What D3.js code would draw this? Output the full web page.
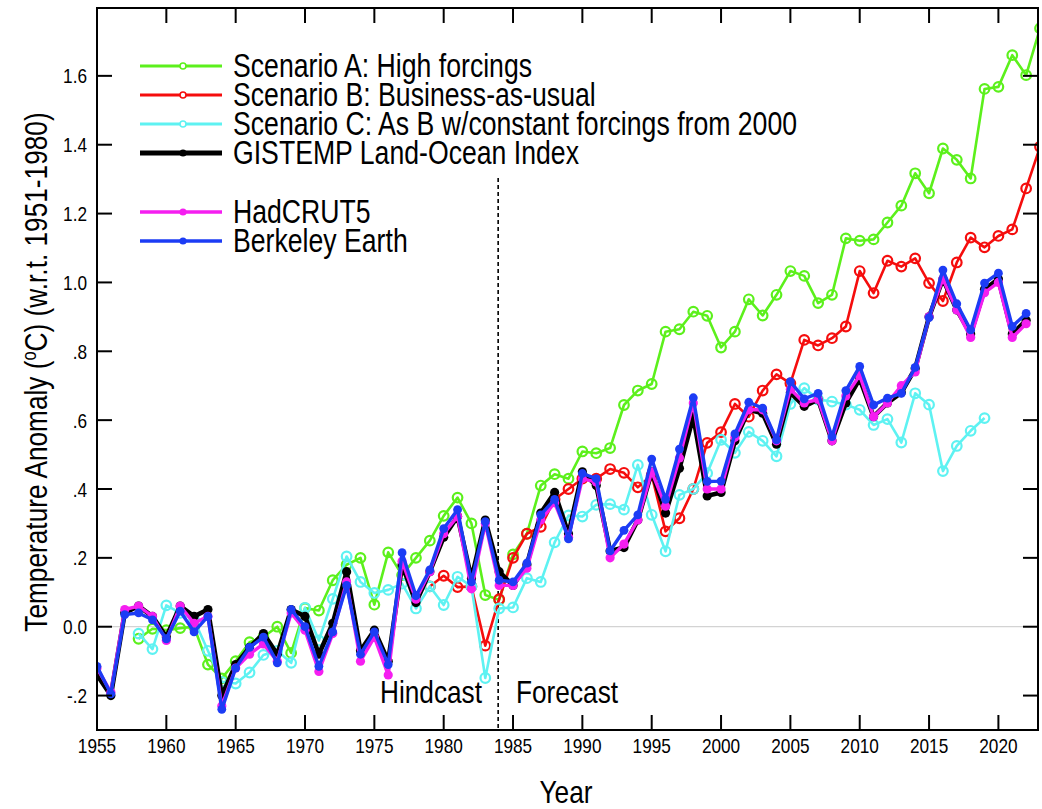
<!DOCTYPE html>
<html><head><meta charset="utf-8">
<script src="https://cdnjs.cloudflare.com/ajax/libs/d3/7.8.5/d3.min.js"></script>
<style>body{margin:0;background:#fff}svg{display:block}text{font-family:"Liberation Sans",Arial,Helvetica,sans-serif;fill:#000}</style>
</head><body><svg id="c" width="1042" height="809"></svg>
<script>
// ---------------- data ----------------
const obsYears = d3.range(1955, 2023); // 1955..2022
const gistemp = [-0.14,-0.20,0.04,0.06,0.03,-0.03,0.06,0.03,0.05,-0.20,-0.11,-0.06,-0.02,-0.08,0.05,0.03,-0.08,0.01,0.16,-0.07,-0.01,-0.10,0.18,0.07,0.16,0.26,0.32,0.14,0.31,0.16,0.12,0.18,0.33,0.39,0.27,0.45,0.41,0.22,0.23,0.31,0.45,0.33,0.46,0.61,0.38,0.39,0.54,0.63,0.62,0.53,0.68,0.64,0.66,0.54,0.65,0.72,0.61,0.65,0.68,0.75,0.90,1.01,0.92,0.85,0.98,1.01,0.85,0.89];
const hadcrut5 = [-0.12,-0.19,0.05,0.06,0.03,-0.04,0.06,0.01,0.03,-0.23,-0.12,-0.08,-0.05,-0.10,0.04,-0.01,-0.13,-0.02,0.13,-0.10,-0.03,-0.14,0.19,0.08,0.16,0.27,0.32,0.11,0.30,0.12,0.12,0.17,0.31,0.36,0.26,0.43,0.42,0.20,0.24,0.31,0.45,0.35,0.49,0.65,0.40,0.40,0.55,0.63,0.63,0.54,0.69,0.65,0.66,0.54,0.67,0.73,0.61,0.65,0.70,0.74,0.90,1.01,0.92,0.84,0.97,1.00,0.84,0.88];
const berkeley = [-0.115,-0.195,0.035,0.04,0.02,-0.035,0.045,-0.015,0.03,-0.24,-0.12,-0.06,-0.03,-0.105,0.05,0.0,-0.115,-0.015,0.12,-0.08,-0.015,-0.11,0.215,0.09,0.165,0.285,0.34,0.13,0.305,0.135,0.13,0.185,0.325,0.37,0.255,0.445,0.43,0.22,0.28,0.325,0.487,0.37,0.516,0.665,0.422,0.423,0.56,0.652,0.635,0.543,0.712,0.662,0.678,0.552,0.686,0.756,0.644,0.664,0.678,0.753,0.898,1.036,0.938,0.862,0.998,1.027,0.872,0.91];

const scenAYears = d3.range(1958, 2024); // 1958..2023
const scenA = [-0.035,-0.006,-0.01,-0.004,0.0,-0.11,-0.15,-0.10,-0.045,-0.03,0.0,-0.076,0.054,0.047,0.135,0.18,0.20,0.064,0.216,0.15,0.20,0.25,0.322,0.375,0.30,0.092,0.078,0.21,0.27,0.41,0.443,0.43,0.509,0.504,0.519,0.644,0.686,0.705,0.857,0.864,0.915,0.903,0.811,0.857,0.951,0.904,0.964,1.033,1.019,0.94,0.964,1.128,1.121,1.125,1.174,1.223,1.317,1.259,1.389,1.356,1.302,1.562,1.568,1.66,1.602,1.738];

const scenBYears = d3.range(1979, 2024); // 1979..2023 (identical to C before)
const scenB = [0.117,0.148,0.115,0.117,-0.055,0.08,0.20,0.27,0.29,0.37,0.40,0.43,0.43,0.458,0.447,0.405,0.44,0.277,0.315,0.40,0.534,0.565,0.647,0.61,0.686,0.733,0.707,0.833,0.817,0.838,0.872,1.033,0.969,1.063,1.046,1.07,0.998,0.946,1.058,1.13,1.102,1.135,1.154,1.273,1.394];

const scenCYears = d3.range(1958, 2020); // 1958..2019
const scenC = [-0.02,-0.065,0.062,0.04,0.02,-0.07,-0.16,-0.165,-0.133,-0.082,-0.07,-0.105,0.055,-0.04,0.081,0.204,0.13,0.098,0.107,0.125,0.053,0.117,0.063,0.145,0.117,-0.149,0.053,0.056,0.141,0.13,0.245,0.323,0.32,0.354,0.356,0.34,0.47,0.325,0.219,0.383,0.40,0.446,0.543,0.505,0.566,0.54,0.495,0.647,0.693,0.66,0.654,0.645,0.63,0.586,0.603,0.535,0.678,0.645,0.452,0.525,0.569,0.606];

const xTickYears = d3.range(1955, 2021, 5);
const yTickValues = [-0.2,0,0.2,0.4,0.6,0.8,1.0,1.2,1.4,1.6];
const yTickLabels = ["-.2","0.0",".2",".4",".6",".8","1.0","1.2","1.4","1.6"];
const legendLabels = ["Scenario A: High forcings","Scenario B: Business-as-usual","Scenario C: As B w/constant forcings from 2000","GISTEMP Land-Ocean Index","HadCRUT5","Berkeley Earth"];

// ---------------- layout ----------------
const L = 97, R = 1038, T = 8, B = 730;
const SX = 0.82; // narrow text
const svg = d3.select("#c");
const x = d3.scaleLinear().domain([1955, 2023]).range([L, 1040]);
const y = d3.scaleLinear().domain([-0.3, 1.8]).range([B, T - 1]);

function txt(g, px, py, s, size, anchor, rot) {
  const t = g.append("text")
    .attr("transform", `translate(${px},${py})` + (rot ? ` rotate(${rot})` : "") + ` scale(${SX},1)`)
    .attr("font-size", size).attr("text-anchor", anchor || "start");
  if (s !== null) t.text(s);
  return t;
}

svg.append("defs").append("clipPath").attr("id", "clip")
  .append("rect").attr("x", L).attr("y", T).attr("width", R - L).attr("height", B - T);

// zero line
svg.append("line").attr("x1", L).attr("x2", R).attr("y1", y(0)).attr("y2", y(0))
  .attr("stroke", "#c8c8c8").attr("stroke-width", 1);

// dashed divider
svg.append("line").attr("x1", x(1984) - 1).attr("x2", x(1984) - 1).attr("y1", 178).attr("y2", B)
  .attr("stroke", "#000").attr("stroke-width", 1.6).attr("stroke-dasharray", "4,3");

// series
const series = [
  {years: scenAYears, vals: scenA, color: "#5cf01c", w: 2.6, r: 4.8, open: true},
  {years: scenBYears, vals: scenB, color: "#f50d0d", w: 2.6, r: 4.8, open: true},
  {years: scenCYears, vals: scenC, color: "#5ef2f2", w: 2.6, r: 4.8, open: true},
  {years: obsYears, vals: gistemp, color: "#000000", w: 4.6, r: 4.6, open: false},
  {years: obsYears, vals: hadcrut5, color: "#f51ef0", w: 3.4, r: 4.6, open: false},
  {years: obsYears, vals: berkeley, color: "#1c3cf5", w: 3.4, r: 4.4, open: false}
];
const plot = svg.append("g").attr("clip-path", "url(#clip)");
const line = d3.line().x(d => x(d[0])).y(d => y(d[1]));
series.forEach(s => {
  const pts = s.years.map((yr, i) => [yr, s.vals[i]]);
  const g = plot.append("g");
  g.append("path").datum(pts).attr("d", line).attr("fill", "none")
    .attr("stroke", s.color).attr("stroke-width", s.w).attr("stroke-linejoin", "round");
  g.selectAll("circle").data(pts).join("circle")
    .attr("cx", d => x(d[0])).attr("cy", d => y(d[1])).attr("r", s.r)
    .attr("fill", s.open ? "none" : s.color)
    .attr("stroke", s.color).attr("stroke-width", s.open ? 2.2 : 0);
});

// frame
svg.append("rect").attr("x", L).attr("y", T).attr("width", R - L).attr("height", B - T)
  .attr("fill", "none").attr("stroke", "#000").attr("stroke-width", 2);

// ticks (inside) and labels
const tk = 15;
const axG = svg.append("g");
xTickYears.forEach(yr => {
  const px = x(yr);
  if (yr !== 1955) {
    axG.append("line").attr("x1", px).attr("x2", px).attr("y1", B).attr("y2", B - tk).attr("stroke", "#000").attr("stroke-width", 2);
    axG.append("line").attr("x1", px).attr("x2", px).attr("y1", T).attr("y2", T + tk).attr("stroke", "#000").attr("stroke-width", 2);
  }
  txt(axG, px, 753, String(yr), 21, "middle");
});
yTickValues.forEach((v, i) => {
  const py = y(v);
  axG.append("line").attr("x1", L).attr("x2", L + tk).attr("y1", py).attr("y2", py).attr("stroke", "#000").attr("stroke-width", 2);
  axG.append("line").attr("x1", R).attr("x2", R - tk).attr("y1", py).attr("y2", py).attr("stroke", "#000").attr("stroke-width", 2);
  txt(axG, 87, py + 7.5, yTickLabels[i], 21, "end");
});

// axis titles
txt(svg, 566, 803, "Year", 32, "middle");
const yt = txt(svg, 47, 372, null, 32, "middle", -90);
yt.append("tspan").text("Temperature Anomaly (");
yt.append("tspan").attr("baseline-shift", "super").attr("font-size", 20).text("o");
yt.append("tspan").text("C) (w.r.t. 1951-1980)");

// Hindcast / Forecast
txt(svg, 482, 703, "Hindcast", 32, "end");
txt(svg, 516, 703, "Forecast", 32, "start");

// legend
const legRows = [66, 95, 124, 153, 212, 241];
const lg = svg.append("g");
series.forEach((s, i) => {
  const ry = legRows[i];
  lg.append("line").attr("x1", 140).attr("x2", 222).attr("y1", ry).attr("y2", ry)
    .attr("stroke", s.color).attr("stroke-width", s.open ? 3 : (i === 3 ? 5 : 3.4));
  lg.append("circle").attr("cx", 183).attr("cy", ry).attr("r", s.open ? 3 : 3.6)
    .attr("fill", s.open ? "#fff" : s.color).attr("stroke", s.color).attr("stroke-width", s.open ? 1.6 : 0);
  txt(lg, 233, ry + 11, legendLabels[i], 32.5, "start");
});
</script></body></html>
